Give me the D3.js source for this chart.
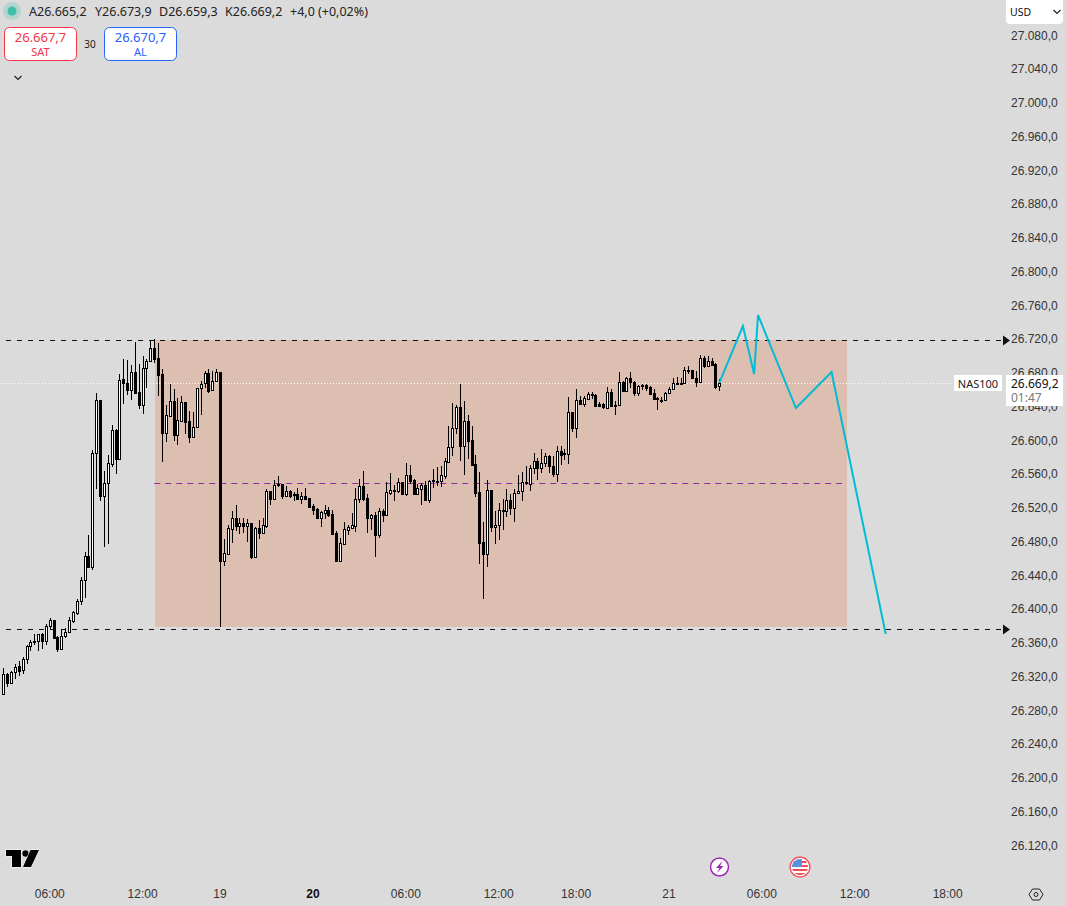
<!DOCTYPE html>
<html>
<head>
<meta charset="utf-8">
<script src="https://cdn.jsdelivr.net/npm/d3@7"></script>
<style>
html, body { margin: 0; padding: 0; background: #dbdbdb; overflow: hidden; }
svg { display: block; font-family: "Noto Sans", sans-serif; }
.tick text { fill: #333; font-size: 12px; }
</style>
</head>
<body>
<svg id="chart" width="1066" height="906"></svg>
<script>
// 15 min candles, one entry per bar, left to right
var opens = [26300.1,26323.8,26313.9,26326.1,26333.6,26328.5,26341.5,26356.9,26362.5,26362.9,
26371.2,26363.7,26380.6,26388.1,26368,26354.2,26369.6,26374.3,26387.4,26396.8,
26410.3,26435.2,26463.6,26451.3,26585.6,26648.8,26535.5,26550.1,26573.4,26613.3,
26579.3,26673.3,26668.6,26660.7,26681.6,26657.9,26643.3,26686.4,26694.7,26710.1,
26698.2,26679.3,26610.1,26630.3,26647.3,26607.8,26624.4,26646.1,26623.6,26605.4,
26617.2,26662.7,26668.6,26680.4,26660.3,26671.8,26681.6,26458.4,26466.7,26496.4,
26508.6,26499.9,26502.6,26499.9,26502.6,26463.1,26496.7,26491.6,26499.9,26540.6,
26531.9,26549.7,26548.9,26535.4,26540.6,26536.6,26537,26531.5,26535,26532.3,
26523.2,26519.6,26509.4,26515.3,26518.4,26513.7,26491.2,26458.4,26478.2,26495.1,
26497.5,26499.9,26531.1,26546.9,26532.3,26509.4,26512.5,26489.2,26517.3,26512.9,
26539,26541.4,26541.4,26551.2,26537.4,26559.5,26553.6,26537.8,26543.7,26547.7,
26530.7,26553.2,26553,26553.2,26559.1,26575.8,26593.5,26616.1,26640.2,26594.7,
26623.6,26601.1,26572.6,26539.4,26480.2,26466,26541.8,26498.7,26501.1,26517.7,
26517.7,26530,26521.3,26538.2,26540.6,26550.9,26549.7,26567.9,26576.2,26568.7,
26573.8,26582.1,26570.2,26561.6,26588,26585.3,26585.3,26634.2,26616.1,26648.5,
26644.5,26650.4,26655.6,26654.4,26643.7,26643.7,26639.8,26657.9,26642.1,26642.5,
26669.8,26659.9,26674.5,26670.6,26657.5,26666.2,26666.2,26663.9,26656.7,26650.4,
26648.8,26649.2,26656.7,26661.5,26668.6,26668.6,26669.4,26684,26684,26674.5,
26670.2,26698.2,26689.1,26694.7,26691.1,26665.2];

var highs = [26330.9,26324.9,26327.3,26335.6,26339.6,26343.9,26358.5,26364.4,26371.6,26371.6,
26372.3,26383.4,26390.1,26388.1,26369.2,26377.5,26378.3,26391.3,26399.2,26413,
26439.1,26468.3,26488.9,26589.2,26657.1,26649.2,26564.7,26583.3,26618.8,26614.5,
26679.7,26697.4,26695.9,26689.9,26717.6,26691.5,26700.6,26697,26718.8,26721.1,
26716.4,26685.2,26642.9,26668.2,26661.5,26650.8,26653.6,26646.9,26635.8,26634.2,
26662.7,26671.4,26682.8,26685.2,26682.8,26685.2,26682,26484.1,26500.7,26517.3,
26524.4,26508.6,26508.6,26507.8,26503.4,26497.9,26506.6,26508.6,26542.9,26541,
26553.6,26558.4,26549.3,26546.5,26542.1,26539.8,26544.5,26539.8,26544.5,26532.7,
26525.2,26520.8,26517.3,26524.4,26522,26518.4,26493.6,26484.9,26503.8,26500.3,
26514.5,26544.5,26554.8,26564.3,26537,26513.3,26515.7,26520.4,26519.6,26551.2,
26562.3,26547.7,26556.4,26551.6,26574.1,26571.8,26554.8,26548.9,26550.4,26552.4,
26553.6,26567,26569,26570.6,26579.7,26617.6,26644.9,26642.5,26667.8,26647.3,
26630.7,26617.6,26583.3,26563.5,26503.9,26553.7,26542.2,26516.9,26526.4,26531.1,
26543,26537.1,26543,26559.6,26563.5,26570.2,26571.8,26586,26580.5,26591.2,
26586,26583.7,26582.5,26594.3,26594.3,26591.2,26652.4,26634.2,26661.5,26653.2,
26653.6,26657.9,26657.9,26656.4,26646.9,26644.9,26664.6,26661.5,26647.3,26681.6,
26671.8,26675.7,26681.6,26671.4,26666.2,26667.8,26668.2,26665.8,26662.3,26652,
26652.8,26657.9,26663.9,26674.5,26675.7,26674.5,26687.6,26689.1,26684.4,26683.6,
26702.2,26701,26701,26698.2,26692.3,26673.9];

var lows = [26299.3,26309.1,26312.7,26318.2,26322.2,26324.2,26336,26351.8,26358.9,26351.8,
26353.8,26358.5,26377.5,26366,26350.6,26352.6,26366.8,26374.3,26385,26394.1,
26405.5,26414.2,26451.3,26447.4,26543.4,26529.2,26474.7,26478.2,26569.5,26561.2,
26579.3,26644.1,26654.8,26648.8,26656.8,26637.8,26632.3,26663.1,26693.9,26693.1,
26653.6,26575.4,26599.1,26629.1,26600.3,26595.5,26624.4,26608.6,26597.9,26604.2,
26617.2,26631.1,26663.5,26657.5,26659.5,26670.6,26379.8,26452.1,26465.1,26479.3,
26493.6,26490,26491.2,26480.5,26460.4,26463.1,26484.1,26491.6,26497.5,26524.4,
26531.5,26545.7,26531.5,26533.5,26532.3,26529.1,26530.3,26525.6,26531.5,26520.8,
26512.5,26509,26498.3,26507.8,26510.2,26490.4,26456.8,26458.4,26477,26488.8,
26495.9,26492.4,26526.7,26529.1,26491.2,26494.7,26462.8,26485.3,26504.2,26511.4,
26536.2,26529.1,26538.6,26537.4,26535,26548.9,26537.4,26537.4,26524.4,26530.3,
26526.7,26544.5,26546.9,26545.7,26555.2,26575.8,26582.5,26608.2,26577,26560.4,
26578.9,26572.2,26534.3,26454.9,26413.4,26451.3,26492,26478.6,26482.9,26494.8,
26510.2,26512.6,26504.7,26537.1,26529.2,26548.1,26541,26561.2,26554.1,26562.7,
26569.8,26562.7,26558,26551.3,26571.8,26577.7,26573,26610.9,26604.2,26642.9,
26640.6,26649.6,26650,26640.2,26640.2,26638.2,26639.4,26641.7,26631.1,26642.5,
26658.7,26658.7,26662.7,26654,26654,26660.7,26659.9,26656,26648.5,26637,
26645.7,26648.8,26656.4,26660.7,26667.8,26667.8,26668.2,26679.7,26673.7,26664.6,
26669.8,26686.8,26688.3,26689.5,26662.3,26659.3];

var closes = [26323.8,26313.9,26326.1,26332.8,26328.1,26341.5,26356.9,26362.5,26362.9,26371.2,
26363.7,26380.6,26388.1,26367.2,26354.2,26369.6,26374.3,26387.8,26397.2,26410.3,
26435.2,26463.6,26451.3,26585.6,26648.5,26535.5,26550.1,26573.8,26612.9,26579.3,
26672.9,26668.6,26660.7,26681.6,26657.5,26643.3,26686.4,26694.7,26710.1,26697.8,
26678.9,26610.1,26630.7,26647.3,26607.8,26624.8,26646.1,26622.8,26605.4,26617.2,
26662.7,26667.8,26680.4,26659.5,26671.8,26681.6,26458.5,26467.1,26496.7,26508.6,
26499.5,26502.6,26499.9,26502.6,26463.1,26496.7,26491.6,26500.3,26540.6,26531.5,
26547.7,26548.5,26535,26540.6,26535,26537,26531.5,26534.6,26531.5,26522,
26518.4,26509,26515.7,26518.1,26512.5,26490.4,26458,26478.9,26495.5,26497.9,
26500.3,26531.1,26546.5,26531.5,26509.4,26512.1,26489.2,26516.9,26512.9,26539.4,
26541.8,26541.8,26551.2,26537.4,26559.5,26553.2,26537.4,26544.1,26547.7,26530.7,
26553.2,26553.6,26553.2,26559.5,26576.1,26593.5,26616.1,26640.2,26594.7,26623.6,
26600.7,26572.2,26539,26479.8,26466,26541.8,26498.7,26501.1,26518.1,26518.1,
26530,26521.3,26538.2,26540.6,26551.3,26551.3,26567.9,26576.2,26568.3,26573.8,
26582.1,26570.2,26561.2,26588,26583.7,26585.6,26634.2,26616.1,26648.5,26644.1,
26650.8,26655.6,26654.4,26642.1,26641.7,26640.2,26657.9,26642.1,26642.5,26669.8,
26659.9,26674.5,26670.6,26657.5,26665,26665,26663.5,26656.4,26650,26650.8,
26649.2,26656.7,26661.5,26669,26669,26669.4,26684,26684.4,26674.5,26670.2,
26698.2,26688.7,26694.7,26690.7,26664.6,26669.2];

var priceTicks = [26120,26160,26200,26240,26280,26320,26360,26400,26440,26480,26520,26560,26600,
  26640,26680,26720,26760,26800,26840,26880,26920,26960,27000,27040,27080];

// bar index of each time label
var timeTickBars = [12,36,56,80,104,128,148,172,196,220,244];
var timeTickLabels = ["06:00","12:00","19","20","06:00","12:00","18:00","21","06:00","12:00","18:00"];

// projection drawn by hand over the chart
var pathBars = [185,191.1,194,195,204.8,214,228];
var pathPrices = [26669,26736.5,26679.6,26749.6,26639.3,26682,26371.5];

// range box and levels
var boxBars = [39.2,218];
var boxPrices = [26720,26380];
var midPrice = 26550;
var midBars = [39,216.7];
var levelPrices = [26720,26377];
var lastPrice = 26669.2;

var settings = {
  up: "#ffffff",
  wick: "#000000",
  box: "#dcbfb0",
  mid: "#8e2d9e",
  path: "#00bcd4",
  text: "#333333"
}

var svg = d3.select("#chart");
var x = d3.scaleLinear().domain([0,185]).range([3.3,719.3]);
var y = d3.scaleLinear().domain([27080,26120]).range([36.2,846.2]);
var locale = d3.formatLocale({decimal: ",", thousands: ".", grouping: [3], currency: ["",""]});
var priceFormat = locale.format(",.1f");

var bars = opens.map(function(o,i){
  return {i: i, o: o, h: highs[i], l: lows[i], c: closes[i]};
});

// range box
svg.append("rect")
  .attr("x", x(boxBars[0]))
  .attr("y", y(boxPrices[0]))
  .attr("width", x(boxBars[1]) - x(boxBars[0]))
  .attr("height", y(boxPrices[1]) - y(boxPrices[0]))
  .attr("fill", settings.box);

// last price dotted line
svg.append("line")
  .attr("x1", 0).attr("x2", 953)
  .attr("y1", Math.round(y(lastPrice)) + 0.5).attr("y2", Math.round(y(lastPrice)) + 0.5)
  .attr("stroke", "#fff")
  .attr("stroke-dasharray", "1 2");

// dashed levels with arrow heads
svg.selectAll(".level")
  .data(levelPrices)
  .enter().append("line")
  .classed("level", true)
  .attr("x1", 6).attr("x2", 1003)
  .attr("y1", function(d){return Math.round(y(d)) + 0.5;})
  .attr("y2", function(d){return Math.round(y(d)) + 0.5;})
  .attr("stroke", "#111")
  .attr("stroke-dasharray", "5 6");

svg.selectAll(".level-head")
  .data(levelPrices)
  .enter().append("path")
  .classed("level-head", true)
  .attr("d", function(d){
    var yy = Math.round(y(d)) + 0.5;
    return "M1003," + (yy-5) + "L1010," + yy + "L1003," + (yy+5) + "Z";
  })
  .attr("fill", "#111");

// mid line
svg.append("line")
  .attr("x1", x(midBars[0])).attr("x2", x(midBars[1]))
  .attr("y1", Math.round(y(midPrice)) + 0.5).attr("y2", Math.round(y(midPrice)) + 0.5)
  .attr("stroke", settings.mid)
  .attr("stroke-dasharray", "6 5");

// candles
var candle = svg.append("g").attr("shape-rendering", "crispEdges")
  .selectAll("g")
  .data(bars)
  .enter().append("g");

candle.append("line")
  .attr("x1", function(d){return Math.round(x(d.i)) + 0.5;})
  .attr("x2", function(d){return Math.round(x(d.i)) + 0.5;})
  .attr("y1", function(d){return y(d.h);})
  .attr("y2", function(d){return y(d.l);})
  .attr("stroke", settings.wick);

candle.append("rect")
  .attr("x", function(d){return Math.round(x(d.i)) - 1;})
  .attr("width", 3)
  .attr("y", function(d){return Math.round(y(Math.max(d.o,d.c)));})
  .attr("height", function(d){
    return Math.max(2, Math.round(y(Math.min(d.o,d.c))) - Math.round(y(Math.max(d.o,d.c))) + 1);
  })
  .attr("fill", settings.wick);

candle.filter(function(d){return d.c >= d.o;}).append("rect")
  .attr("x", function(d){return Math.round(x(d.i));})
  .attr("width", 1)
  .attr("y", function(d){return Math.round(y(d.c)) + 1;})
  .attr("height", function(d){
    return Math.max(0, Math.round(y(d.o)) - Math.round(y(d.c)) - 1);
  })
  .attr("fill", settings.up);

// projection
svg.append("path")
  .datum(pathBars)
  .attr("d", d3.line()
    .x(function(d){return x(d);})
    .y(function(d,i){return y(pathPrices[i]);}))
  .attr("fill", "none")
  .attr("stroke", settings.path)
  .attr("stroke-width", 2);

// axes
var yAxis = d3.axisRight(y)
  .tickValues(priceTicks)
  .tickSize(0)
  .tickPadding(0)
  .tickFormat(priceFormat);

svg.append("g")
  .attr("transform", "translate(1011,-1)")
  .call(yAxis)
  .call(function(g){g.select(".domain").remove();});

var xAxis = d3.axisBottom(x)
  .tickValues(timeTickBars)
  .tickSize(0)
  .tickPadding(0)
  .tickFormat(function(d,i){return timeTickLabels[i];});

svg.append("g")
  .attr("transform", "translate(-0.5,889)")
  .call(xAxis)
  .call(function(g){g.select(".domain").remove();})
  .selectAll("text")
  .style("fill", function(d,i){return timeTickLabels[i] == "20" ? "#111" : "#333";})
  .style("font-weight", function(d,i){return timeTickLabels[i] == "20" ? 600 : 400;});

// last price labels
svg.append("rect").attr("x", 954).attr("y", 375).attr("width", 48).attr("height", 16).attr("fill", "#fff");
svg.append("rect").attr("x", 1006).attr("y", 375).attr("width", 57).attr("height", 31).attr("fill", "#fff");
addText(978, 383.5, "NAS100", 11, "#222", "middle");
addText(1011, 383, priceFormat(lastPrice), 12, "#111", "start");
addText(1011, 397, "01:47", 12, "#777", "start");

// header
svg.append("circle").attr("cx", 12).attr("cy", 11).attr("r", 9).attr("fill", "#3fbfa8").attr("opacity", 0.25);
svg.append("circle").attr("cx", 12).attr("cy", 11).attr("r", 4.5).attr("fill", "#3fbfa8");
addText(29, 11.5, "A26.665,2", 12.5, "#222", "start");
addText(95, 11.5, "Y26.673,9", 12.5, "#222", "start");
addText(159, 11.5, "D26.659,3", 12.5, "#222", "start");
addText(225, 11.5, "K26.669,2", 12.5, "#222", "start");
addText(290, 11.5, "+4,0 (+0,02%)", 12.5, "#222", "start");

addButton(4.5, "#f23645", "26.667,7", "SAT");
addButton(104.5, "#2962ff", "26.670,7", "AL");
addText(90, 44, "30", 10, "#222", "middle");
addChevron(18, 78);

// currency box
svg.append("rect").attr("x", 1006).attr("y", -4).attr("width", 57).attr("height", 28).attr("rx", 4).attr("fill", "#fff");
addText(1010, 12, "USD", 10.5, "#111", "start");
addChevron(1057, 12);

// logo
var logo = svg.append("g")
  .attr("fill", "#000")
  .attr("stroke", "#fff")
  .attr("stroke-width", 1)
  .attr("paint-order", "stroke");
logo.append("path").attr("d", "M6,850H21V867H12V856H6Z");
logo.append("circle").attr("cx", 25.5).attr("cy", 853.5).attr("r", 3.2);
logo.append("path").attr("d", "M30.5,850H39L31,867H23Z");

// lightning badge
svg.append("circle").attr("cx", 719.5).attr("cy", 867).attr("r", 10).attr("fill", "#fff");
svg.append("circle").attr("cx", 719.5).attr("cy", 867).attr("r", 9).attr("fill", "#fff").attr("stroke", "#9c27b0").attr("stroke-width", 1.5);
svg.append("path").attr("d", "M722.5,861L716,868H719.5L717,873L723.5,866H720Z").attr("fill", "#9c27b0");

// flag badge
svg.append("clipPath").attr("id", "flag").append("circle").attr("cx", 800).attr("cy", 867).attr("r", 8);
svg.append("circle").attr("cx", 800).attr("cy", 867).attr("r", 11).attr("fill", "#fff");
svg.append("circle").attr("cx", 800).attr("cy", 867).attr("r", 10).attr("fill", "#fff").attr("stroke", "#f0525c").attr("stroke-width", 1.5);
var flag = svg.append("g").attr("clip-path", "url(#flag)");
flag.append("rect").attr("x", 792).attr("y", 859).attr("width", 16).attr("height", 16).attr("fill", "#fff");
[861,865,869,873].forEach(function(s){
  flag.append("rect").attr("x", 792).attr("y", s).attr("width", 16).attr("height", 2).attr("fill", "#ef4a55");
});
flag.append("rect").attr("x", 792).attr("y", 859).attr("width", 10).attr("height", 8).attr("fill", "#5b8fe0");

// settings icon
svg.append("path")
  .attr("d", "M1029,894.5L1032.5,889H1039.5L1043,894.5L1039.5,900H1032.5Z")
  .attr("fill", "none").attr("stroke", "#222");
svg.append("circle").attr("cx", 1036).attr("cy", 894.5).attr("r", 2).attr("fill", "none").attr("stroke", "#222");

function addText(px, py, str, size, color, anchor) {
  svg.append("text")
    .attr("x", px).attr("y", py)
    .attr("dominant-baseline", "central")
    .attr("text-anchor", anchor)
    .attr("font-size", size)
    .attr("fill", color)
    .text(str);
}

function addButton(px, color, price, label) {
  svg.append("rect")
    .attr("x", px).attr("y", 27.5)
    .attr("width", 72).attr("height", 33).attr("rx", 5)
    .attr("fill", "#fff").attr("stroke", color);
  addText(px + 36, 37, price, 13, color, "middle");
  addText(px + 36, 51, label, 11, color, "middle");
}

function addChevron(px, py) {
  svg.append("path")
    .attr("d", "M" + (px-3.5) + "," + (py-2) + "L" + px + "," + (py+1.5) + "L" + (px+3.5) + "," + (py-2))
    .attr("fill", "none").attr("stroke", "#222").attr("stroke-width", 1.2);
}
</script>
</body>
</html>
